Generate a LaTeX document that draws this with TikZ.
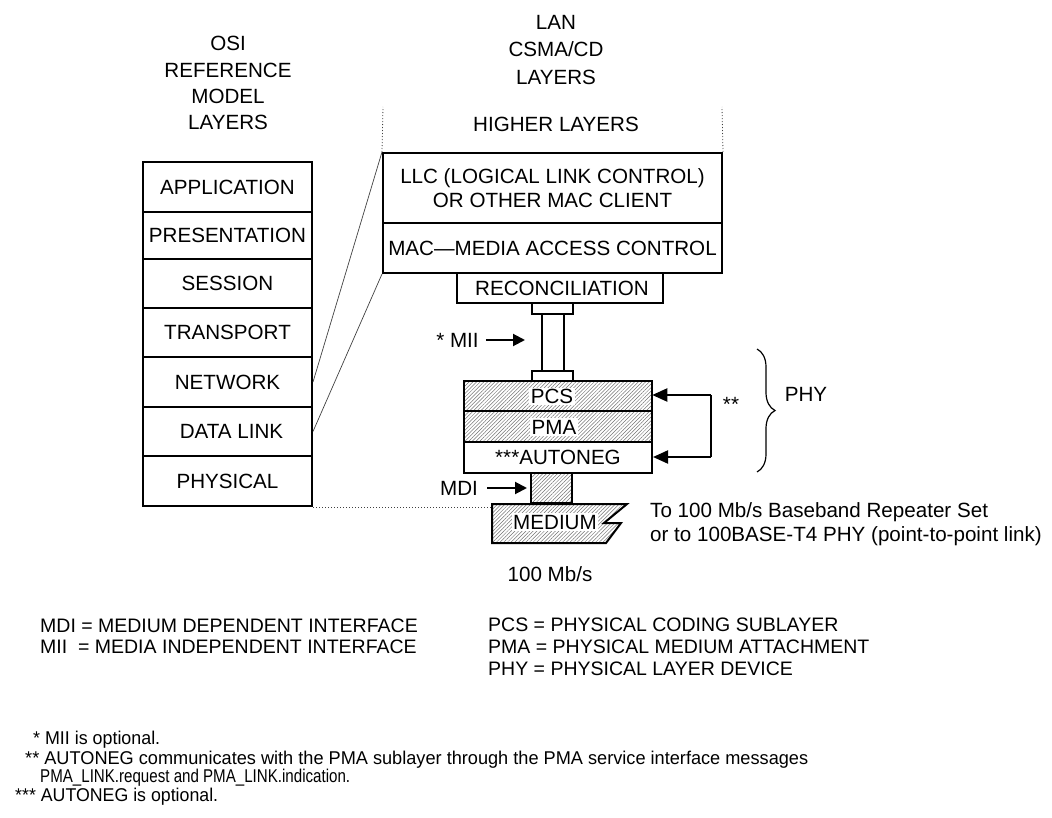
\documentclass[tikz,border=0pt]{standalone}
\usepackage{fontspec}
\setmainfont{Liberation Sans}
\usetikzlibrary{arrows.meta,patterns.meta,decorations.pathreplacing}
\tikzset{
  T/.style={font=\fontsize{20.6}{24}\selectfont},
  Td/.style={font=\fontsize{19.5}{22}\selectfont},
  Tn/.style={font=\fontsize{18.5}{22}\selectfont},
  lay/.style={draw, line width=2pt, inner sep=0pt, T, text height=14.8pt, text depth=0pt},
  hatch/.style={pattern={Lines[angle=45,distance=2.6pt,line width=0.5pt]}, pattern color=black!55},
  thinl/.style={line width=0.7pt, black!75},
  dotl/.style={line width=1pt, dotted, black!75},
  arr/.style={line width=2pt, -{Triangle[length=12pt,width=12pt]}},
  arrb/.style={line width=2pt, -{Triangle[length=15pt,width=13pt]}},
  wl/.style={fill=white, inner sep=1.5pt, T, text height=14.8pt, text depth=0pt},
  plain/.style={inner sep=0pt, T, text height=14.8pt, text depth=0pt},
  defn/.style={inner sep=0pt, Td, anchor=west, text height=14pt, text depth=0pt},
  foot/.style={inner sep=0pt, Tn, anchor=west},
}
\begin{document}
\begin{tikzpicture}[x=1pt,y=-1pt]
\useasboundingbox (0,0) rectangle (1052,818);

% ---- titles
\node[plain] (osi1) at (228,43) {OSI};
\node[plain] (osi2) at (228,70) {REFERENCE};
\node[plain] (osi3) at (228,96) {MODEL};
\node[plain] (osi4) at (228,122) {LAYERS};
\node[plain] (lan1) at (556,22) {LAN};
\node[plain] (lan2) at (556,49) {CSMA/CD};
\node[plain] (lan3) at (556,77) {LAYERS};

% ---- OSI stack
\begin{scope}[every node/.style={lay, minimum width=169pt}]
\node[minimum height=50pt] (app) at (227.5,187) {APPLICATION};
\node[minimum height=47pt] (pre) at (227.5,235.5) {PRESENTATION};
\node[minimum height=49pt] (ses) at (227.5,283.5) {SESSION};
\node[minimum height=49pt] (tra) at (227.5,332.5) {TRANSPORT};
\node[minimum height=50pt] (net) at (227.5,382) {NETWORK};
\node[minimum height=49pt] (dl) at (227.5,431.5) {\hspace*{8pt}DATA LINK};
\node[minimum height=50pt] (phys) at (227.5,481) {PHYSICAL};
\end{scope}

% ---- LAN stack
\node[plain] (hl) at (556,124) {HIGHER LAYERS};
\node[draw, line width=2pt, inner sep=0pt, minimum width=339pt, minimum height=70pt,
      align=center, T] (llc) at (552.5,188) {LLC (LOGICAL LINK CONTROL)\\OR OTHER MAC CLIENT};
\node[lay, minimum width=339pt, minimum height=50pt] (mac) at (552.5,248) {MAC---MEDIA ACCESS CONTROL};
\node[lay, minimum width=206pt, minimum height=30pt] (rec) at (560,288) {\hspace*{4pt}RECONCILIATION};
\coordinate (hlL) at (383,107);
\coordinate (hlR) at (722,107);
\draw[dotl, line width=0.8pt] (llc.north west) -- (hlL);
\draw[dotl, line width=0.8pt] (llc.north east) -- (hlR);

% connectors OSI -> LAN
\draw[thinl] (net.east) -- (llc.north west);
\draw[thinl] (dl.east) -- (mac.south west);

% ---- MII
\node[draw, line width=2pt, inner sep=0pt, minimum width=41pt, minimum height=11pt] (capt) at (552.5,308.5) {};
\node[draw, line width=2pt, inner sep=0pt, minimum width=22pt, minimum height=57pt] (pipe) at (553,342.5) {};
\node[draw, line width=2pt, inner sep=0pt, minimum width=41pt, minimum height=10pt] (capb) at (552.5,376) {};
\node[plain] (miil) at (457.5,340) {* MII};
\coordinate (miitip) at (525,340);
\draw[arr] ([xshift=7pt]miil.east) -- (miitip);

% ---- PHY
\node[draw, line width=2pt, inner sep=0pt, minimum width=188pt, minimum height=30pt, hatch] (pcs) at (558,396) {};
\node[draw, line width=2pt, inner sep=0pt, minimum width=188pt, minimum height=31pt, hatch] (pma) at (558,426.5) {};
\node[lay, minimum width=188pt, minimum height=31pt] (aut) at (558,457.5) {***AUTONEG};
\node[wl] (pcsl) at (552,396.5) {PCS};
\node[wl] (pmal) at (554,427) {PMA};

% feedback loop
\coordinate (fbt) at (711,395);
\coordinate (fbb) at (711,457);
\draw[line width=2pt] (fbt) -- (fbb);
\draw[arrb] (fbt) -- (pcs.east |- fbt);
\draw[arrb] (fbb) -- (aut.east |- fbb);
\node[plain] (star2) at (731,404) {**};

% brace and PHY
\coordinate (brt) at (757,349);
\coordinate (brb) at (757,472);
\draw[line width=1.2pt, decorate, decoration={brace, amplitude=18pt}] (brt) -- (brb);
\node[plain] (phy) at (806,394) {PHY};

% ---- MDI and medium
\node[draw, line width=2pt, inner sep=0pt, minimum width=41pt, minimum height=30pt, hatch] (mdi) at (551.5,488) {};
\node[plain] (mdil) at (459,488) {MDI};
\coordinate (mditip) at (527,488);
\draw[arr] ([xshift=9pt]mdil.east) -- (mditip);

\coordinate (medtl) at (492,504);
\draw[line width=2pt, hatch, line join=miter] (medtl) -- (627,504) -- (604,523) -- (621,523) -- (606,543) -- (492,543) -- cycle;
\node[wl] (medl) at (555,522) {MEDIUM};
\draw[dotl] (phys.south east) -- (phys.south east -| medtl);

\node[inner sep=0pt, anchor=west, align=left, T] (to) at (650,524)
  {To 100 Mb/s Baseband Repeater Set\\or to 100BASE-T4 PHY (point-to-point link)};
\node[plain] (speed) at (550,574) {100 Mb/s};

% ---- definitions
\node[defn] (d1) at (40,625) {MDI = MEDIUM DEPENDENT INTERFACE};
\node[defn] (d2) at (40,646) {MII\ \ = MEDIA INDEPENDENT INTERFACE};
\node[defn] (d3) at (488,624) {PCS = PHYSICAL CODING SUBLAYER};
\node[defn] (d4) at (488,646) {PMA = PHYSICAL MEDIUM ATTACHMENT};
\node[defn] (d5) at (488,668) {PHY = PHYSICAL LAYER DEVICE};

% ---- footnotes
\node[foot] (f1) at (33,740) {\resizebox{127pt}{\height}{* MII is optional.}};
\node[foot] (f2) at (25,760) {\resizebox{783pt}{\height}{** AUTONEG communicates with the PMA sublayer through the PMA service interface messages}};
\node[foot] (f3) at (40,778) {\resizebox{310pt}{\height}{PMA\_LINK.request and PMA\_LINK.indication.}};
\node[foot] (f4) at (15,797) {\resizebox{203pt}{\height}{*** AUTONEG is optional.}};
\end{tikzpicture}
\end{document}
